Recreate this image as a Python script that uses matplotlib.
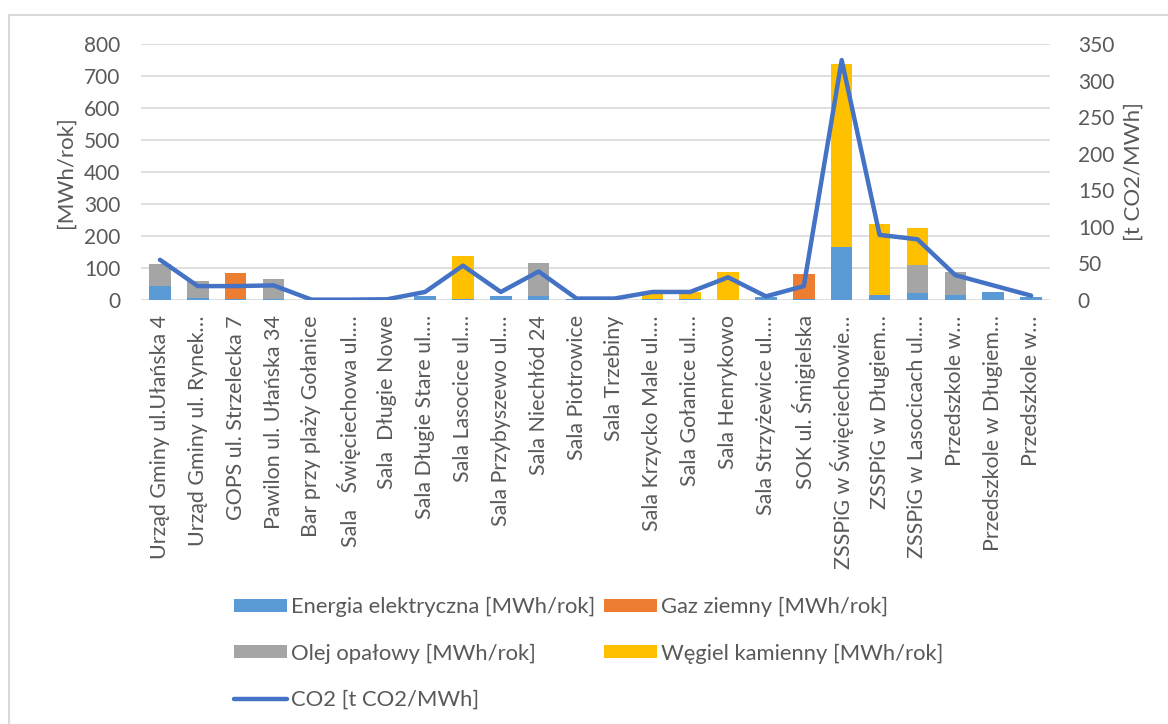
import matplotlib
matplotlib.use("Agg")
import matplotlib.pyplot as plt
import numpy as np
from matplotlib.patches import Rectangle

plt.rcParams['font.family'] = ['Lato', 'DejaVu Sans']

categories = [
    "Urząd Gminy ul.Ułańska 4",
    "Urząd Gminy ul. Rynek…",
    "GOPS ul. Strzelecka 7",
    "Pawilon ul. Ułańska 34",
    "Bar przy plaży Gołanice",
    "Sala   Święciechowa ul.…",
    "Sala  Długie Nowe",
    "Sala Długie Stare ul.…",
    "Sala Lasocice ul.…",
    "Sala Przybyszewo ul.…",
    "Sala Niechłód 24",
    "Sala Piotrowice",
    "Sala Trzebiny",
    "Sala Krzycko Male ul.…",
    "Sala Gołanice ul.…",
    "Sala Henrykowo",
    "Sala Strzyżewice ul.…",
    "SOK ul. Śmigielska",
    "ZSSPiG w Święciechowie…",
    "ZSSPiG w Długiem…",
    "ZSSPiG w Lasocicach ul.…",
    "Przedszkole w…",
    "Przedszkole w Długiem…",
    "Przedszkole w…",
]

energia = [44, 5, 3, 4, 0, 0, 0, 12, 4, 12, 12, 3, 1, 3, 3, 1, 10, 3, 165, 16, 21, 16, 24, 8]
gaz     = [0, 0, 81, 0, 0, 0, 0, 0, 0, 0, 0, 0, 0, 0, 0, 0, 0, 77, 0, 0, 0, 0, 0, 0]
olej    = [68, 55, 0, 61, 0, 0, 0, 0, 0, 0, 105, 0, 0, 0, 0, 0, 0, 0, 0, 0, 87, 72, 0, 0]
wegiel  = [0, 0, 0, 0, 0, 0, 0, 0, 132, 0, 0, 0, 0, 15, 22, 87, 0, 0, 573, 222, 117, 0, 0, 0]
co2     = [55, 19, 19, 20, 0.5, 0.5, 1, 11, 47, 11, 39, 2, 2, 11, 11, 31, 5, 19, 328, 89, 83, 34, 20, 6]

series_labels = ["Energia elektryczna [MWh/rok]", "Gaz ziemny [MWh/rok]",
                 "Olej opałowy [MWh/rok]", "Węgiel kamienny [MWh/rok]"]
line_label = "CO2 [t CO2/MWh]"
left_label = "[MWh/rok]"
right_label = "[t CO2/MWh]"

c_blue = "#5B9BD5"
c_orange = "#ED7D31"
c_gray = "#A5A5A5"
c_yellow = "#FFC000"
c_line = "#4472C4"
txt = "#595959"
grid_c = "#D9D9D9"

W, H = 1168, 724
fig = plt.figure(figsize=(W / 100, H / 100), dpi=100)

# chart border (partially visible)
fig.patches.append(Rectangle((9 / W, -0.05), 1.2, 1 - 15 / H + 0.05, transform=fig.transFigure,
                             fill=False, edgecolor="#D9D9D9", linewidth=1.5))

left, right, top, bottom = 141, 1050, 44, 300
ax = fig.add_axes([left / W, 1 - bottom / H, (right - left) / W, (bottom - top) / H])

x = np.arange(len(categories))
bw = 0.57
e = np.array(energia, float)
g = np.array(gaz, float)
o = np.array(olej, float)
w = np.array(wegiel, float)
b1 = ax.bar(x, e, bw, color=c_blue, label=series_labels[0], zorder=2)
b2 = ax.bar(x, g, bw, bottom=e, color=c_orange, label=series_labels[1], zorder=2)
b3 = ax.bar(x, o, bw, bottom=e + g, color=c_gray, label=series_labels[2], zorder=2)
b4 = ax.bar(x, w, bw, bottom=e + g + o, color=c_yellow, label=series_labels[3], zorder=2)

ax.set_xlim(-0.5, len(categories) - 0.5)
ax.set_ylim(0, 800)
ax.set_yticks(np.arange(0, 801, 100))
ax.grid(axis="y", color=grid_c, linewidth=1.2, zorder=0)
ax.set_axisbelow(True)
for s in ax.spines.values():
    s.set_visible(False)
ax.tick_params(axis="both", length=0, colors=txt, labelsize=15)
ax.tick_params(axis="y", pad=15)
ax.set_xticks(x)
ax.set_xticklabels(categories, rotation=90, fontsize=15.4, color=txt)
ax.tick_params(axis="x", pad=11)
ax.set_ylabel(left_label, fontsize=16, color=txt, labelpad=6)

ax2 = ax.twinx()
ln, = ax2.plot(x, co2, color=c_line, linewidth=3.2, solid_capstyle="round",
               solid_joinstyle="round", label=line_label, zorder=3)
ax2.set_ylim(0, 350)
ax2.set_yticks(np.arange(0, 351, 50))
for s in ax2.spines.values():
    s.set_visible(False)
ax2.tick_params(axis="y", length=0, colors=txt, labelsize=15, pad=20)
ax2.set_ylabel(right_label, fontsize=16, color=txt, labelpad=7)

handles = [b1, b3, ln, b2, b4]
labels = [series_labels[0], series_labels[2], line_label, series_labels[1], series_labels[3]]
leg = fig.legend(handles, labels, ncol=2, loc="upper left",
                 bbox_to_anchor=(234 / W, 1 - 597 / H), frameon=False,
                 fontsize=15.8, handlelength=2.4, handleheight=0.55, handletextpad=0.2,
                 labelspacing=1.2, columnspacing=0.4, borderpad=0, borderaxespad=0)
for t in leg.get_texts():
    t.set_color(txt)

fig.savefig("out.png", dpi=100)
